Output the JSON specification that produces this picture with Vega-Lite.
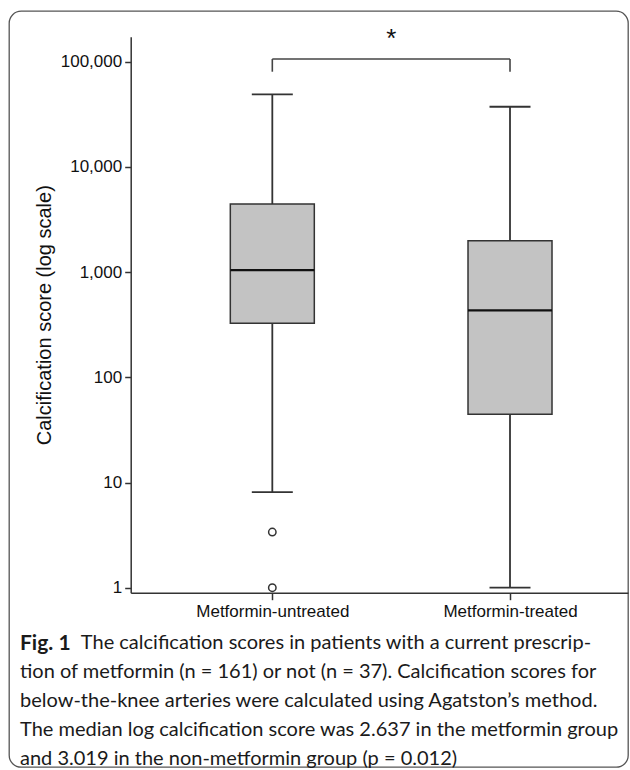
{
  "$schema": "https://vega.github.io/schema/vega-lite/v6.json",
  "autosize": "none",
  "width": 619,
  "height": 756,
  "padding": {"left": 9, "top": 11, "right": 2, "bottom": 3},
  "background": "white",
  "config": {
    "view": {"stroke": "#555", "strokeWidth": 1.3, "cornerRadius": 12},
    "axis": {"grid": false}
  },
  "title": {
    "text": "Fig. 1",
    "subtitle": [
      "\u200b\u00a0\u00a0\u00a0\u00a0\u00a0\u00a0\u00a0\u00a0\u00a0\u00a0\u00a0\u00a0The calcification scores in patients with a current prescrip-",
      "tion of metformin (n = 161) or not (n = 37). Calcification scores for",
      "below-the-knee arteries were calculated using Agatston\u2019s method.",
      "The median log calcification score was 2.637 in the metformin group",
      "and 3.019 in the non-metformin group (p = 0.012)"
    ],
    "orient": "bottom",
    "anchor": "start",
    "frame": "group",
    "offset": -134,
    "dx": 11,
    "font": "Lato",
    "fontSize": 21,
    "fontWeight": "bold",
    "color": "#1a1a1a",
    "subtitleFont": "Lato",
    "subtitleFontSize": 20,
    "subtitleFontWeight": "normal",
    "subtitleColor": "#1a1a1a",
    "subtitleLineHeight": 29,
    "subtitlePadding": -21
  },
  "datasets": {
    "boxes": [
      {"group": "Metformin-untreated", "lower": 8.1, "q1": 326, "median": 1045, "q3": 4440, "upper": 49000},
      {"group": "Metformin-treated", "lower": 1, "q1": 44.5, "median": 433, "q3": 1988, "upper": 37300}
    ],
    "outliers": [
      {"group": "Metformin-untreated", "value": 3.38},
      {"group": "Metformin-untreated", "value": 1}
    ],
    "bracket": [
      {"from": "Metformin-untreated", "to": "Metformin-treated", "top": 106100, "bottom": 80300, "label": "*"}
    ]
  },
  "encoding": {
    "x": {
      "field": "group",
      "type": "nominal",
      "sort": ["Metformin-untreated", "Metformin-treated"],
      "scale": {"type": "point", "domain": ["Metformin-untreated", "Metformin-treated"], "range": [121.7, 619], "padding": 0.5461, "align": 0.5455},
      "axis": {
        "orient": "bottom", "offset": -174.3, "title": null, "labelAngle": 0,
        "labelFont": "Liberation Sans", "labelFontSize": 17, "labelColor": "#111", "labelPadding": 4,
        "tickSize": 7, "tickWidth": 1.5, "tickColor": "#333",
        "domainColor": "#333", "domainWidth": 1.5
      }
    }
  },
  "layer": [
    {
      "data": {"name": "boxes"},
      "mark": {"type": "rule", "color": "#333", "strokeWidth": 1.8},
      "encoding": {
        "y": {
          "field": "lower", "type": "quantitative",
          "scale": {"type": "log", "domain": [0.8964, 172800], "range": [581.7, 25.7], "nice": false, "zero": false},
          "axis": {
            "offset": -121.7, "values": [1, 10, 100, 1000, 10000, 100000], "format": ",.0f",
            "labelFont": "Liberation Sans", "labelFontSize": 17, "labelColor": "#111", "labelPadding": 3,
            "tickSize": 6, "tickWidth": 1.5, "tickColor": "#333",
            "domainColor": "#333", "domainWidth": 1.5,
            "title": "Calcification score (log scale)", "titleFont": "Liberation Sans", "titleFontSize": 20,
            "titleFontWeight": "normal", "titleColor": "#111", "titlePadding": 6
          }
        },
        "y2": {"field": "upper"}
      }
    },
    {
      "data": {"name": "boxes"},
      "mark": {"type": "bar", "size": 84, "fill": "#c3c3c3", "stroke": "#333", "strokeWidth": 1.5},
      "encoding": {
        "y": {"field": "q1", "type": "quantitative"},
        "y2": {"field": "q3"}
      }
    },
    {
      "data": {"name": "boxes"},
      "mark": {"type": "tick", "size": 84, "thickness": 2.4, "color": "#111", "opacity": 1},
      "encoding": {"y": {"field": "median", "type": "quantitative"}}
    },
    {
      "data": {"name": "boxes"},
      "mark": {"type": "tick", "size": 41, "thickness": 1.8, "color": "#333", "opacity": 1},
      "encoding": {"y": {"field": "lower", "type": "quantitative"}}
    },
    {
      "data": {"name": "boxes"},
      "mark": {"type": "tick", "size": 41, "thickness": 1.8, "color": "#333", "opacity": 1},
      "encoding": {"y": {"field": "upper", "type": "quantitative"}}
    },
    {
      "data": {"name": "outliers"},
      "mark": {"type": "point", "shape": "circle", "size": 55, "filled": false, "fill": "white", "fillOpacity": 1, "stroke": "#333", "strokeWidth": 1.5, "opacity": 1},
      "encoding": {"y": {"field": "value", "type": "quantitative"}}
    },
    {
      "data": {"name": "bracket"},
      "mark": {"type": "rule", "color": "#444", "strokeWidth": 1.6},
      "encoding": {
        "x": {"field": "from", "type": "nominal"},
        "x2": {"field": "to"},
        "y": {"field": "top", "type": "quantitative"}
      }
    },
    {
      "data": {"name": "bracket"},
      "transform": [{"fold": ["from", "to"], "as": ["end", "group"]}],
      "mark": {"type": "rule", "color": "#444", "strokeWidth": 1.6},
      "encoding": {
        "y": {"field": "bottom", "type": "quantitative"},
        "y2": {"field": "top"}
      }
    },
    {
      "data": {"name": "bracket"},
      "mark": {"type": "text", "font": "Liberation Sans", "fontSize": 26, "color": "#111", "dx": 119, "dy": -12, "baseline": "alphabetic", "align": "center"},
      "encoding": {
        "x": {"field": "from", "type": "nominal"},
        "y": {"field": "top", "type": "quantitative"},
        "text": {"field": "label"}
      }
    }
  ]
}
